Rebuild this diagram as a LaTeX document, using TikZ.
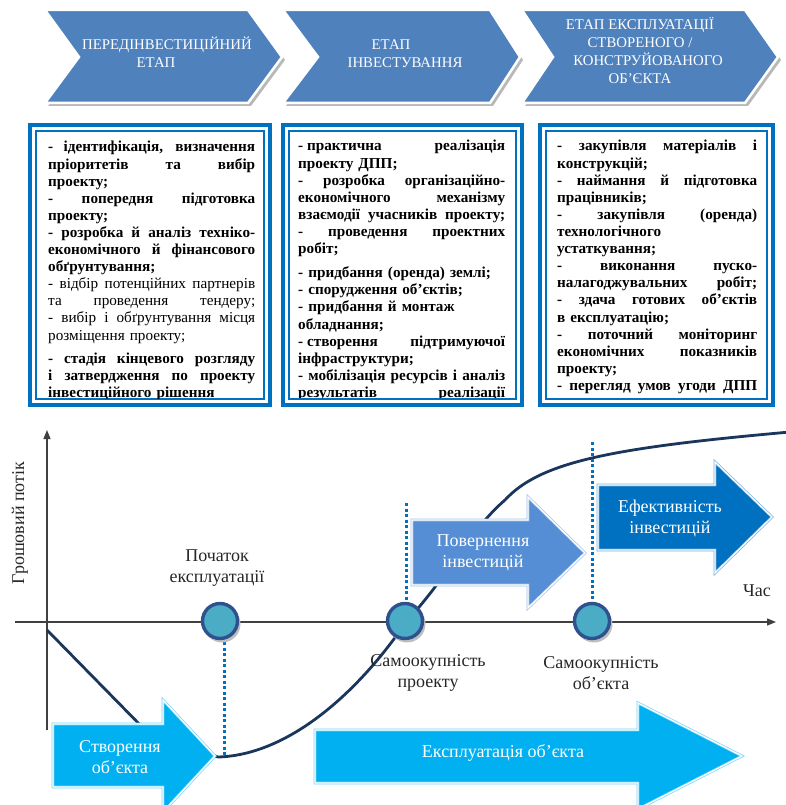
\documentclass[tikz,border=0pt]{standalone}
\usepackage{fontspec}
\setmainfont{Liberation Serif}
\usetikzlibrary{arrows.meta}
\definecolor{chev}{HTML}{4F81BD}
\definecolor{bord}{HTML}{0070C0}
\definecolor{navy}{HTML}{1B365D}
\definecolor{mcirc}{HTML}{4BACC6}
\definecolor{ringc}{HTML}{2F528F}
\definecolor{cyanA}{HTML}{00B0F0}
\definecolor{midB}{HTML}{558ED5}
\definecolor{effB}{HTML}{0070C0}
\definecolor{axisc}{HTML}{404040}
\newlength\tw
\newcommand\J[1]{\makebox[\tw][s]{\spaceskip=0.25em plus 20em\xspaceskip=0.25em plus 20em #1}}
\tikzset{
  chevshape/.style={fill=chev, draw=white, line width=2.5pt, line join=miter},
  chevshadow/.style={fill=black!28},
  chevtext/.style={text=white, align=center, font=\fontsize{14.8}{18}\selectfont},
  outerbox/.style={draw=bord, line width=4.5pt, fill=white},
  innerbox/.style={draw=bord, line width=1.2pt},
  btext/.style={anchor=base west, inner sep=0pt, align=left, text width=#1,
    font={\fontsize{15.2}{17.1}\selectfont\bfseries}},
  axisline/.style={draw=axisc, line width=1.3pt, -{Triangle[length=9pt,width=7pt]}},
  curveline/.style={draw=navy, line width=2.8pt},
  vdots/.style={draw=bord, line width=3pt, dash pattern=on 3pt off 2.5pt},
  mile/.style={circle, minimum size=35pt, inner sep=0pt, fill=mcirc, draw=ringc, line width=3.4pt},
  mileshadow/.style={circle, minimum size=37pt, inner sep=0pt, fill=black!25},
  lbl/.style={font=\fontsize{18}{21}\selectfont, text=black!85, align=center},
  arrtext/.style={text=white, align=center, font=\fontsize{18}{21}\selectfont},
  fatarrow/.style={fill=#1, draw=#1!55!white, double=white, double distance=1.3pt, line width=0.7pt, line join=miter},
}
\begin{document}
\begin{tikzpicture}[x=1pt,y=-1pt]
\useasboundingbox (0,0) rectangle (785,805);
% ---------- chevrons ----------
\fill[chevshadow] (48,13) -- (251,13) -- (285,60) -- (251,106) -- (48,106) -- (83,60) -- cycle;
\draw[chevshape] (45,10) -- (248,10) -- (282,57) -- (248,103) -- (45,103) -- (79,57) -- cycle;
\fill[chevshadow] (286,13) -- (493,13) -- (523,60) -- (493,106) -- (286,106) -- (321,60) -- cycle;
\draw[chevshape] (283,10) -- (490,10) -- (520,57) -- (490,103) -- (283,103) -- (318,57) -- cycle;
\fill[chevshadow] (525,13) -- (748,13) -- (781,60) -- (748,106) -- (525,106) -- (556,60) -- cycle;
\draw[chevshape] (522,10) -- (745,10) -- (778,57) -- (745,103) -- (522,103) -- (553,57) -- cycle;
\node[chevtext] (c1) at (167,52) {ПЕРЕДІНВЕСТИЦІЙНИЙ\\ЕТАП\hspace*{22pt}};
\node[chevtext] (c2) at (405,54) {ЕТАП\hspace*{28pt}\\ІНВЕСТУВАННЯ};
\node[chevtext] (c3) at (640,51) {ЕТАП ЕКСПЛУАТАЦІЇ\\СТВОРЕНОГО /\\\hspace*{16pt}КОНСТРУЙОВАНОГО\\ОБ’ЄКТА};
% ---------- boxes ----------
\draw[outerbox] (30,125) rectangle (270,405);
\draw[innerbox] (36,131) rectangle (264,399);
\draw[outerbox] (283,125) rectangle (522,405);
\draw[innerbox] (289,131) rectangle (516,399);
\draw[outerbox] (540,125) rectangle (773,405);
\draw[innerbox] (546,131) rectangle (767,399);
\begin{scope}
\clip (37,132) rectangle (263,398);
\node[btext=207pt] (t1) at (48,152) {\setlength\tw{207pt}%
\J{- ідентифікація, визначення}\\
\J{пріоритетів та вибір}\\
проекту;\\
\J{- попередня підготовка}\\
проекту;\\
\J{- розробка й аналіз техніко-}\\
\J{економічного й фінансового}\\
обґрунтування;\\
{\mdseries\J{- відбір потенційних партнерів}}\\
{\mdseries\J{та проведення тендеру;}}\\
{\mdseries\J{- вибір і обґрунтування місця}}\\
{\mdseries розміщення проекту;}\\[6pt]
\J{- стадія кінцевого розгляду}\\
\J{і затвердження по проекту}\\
інвестиційного рішення};
\end{scope}
\begin{scope}
\clip (290,132) rectangle (515,397);
\node[btext=207pt] (t2) at (298,151) {\setlength\tw{207pt}%
\J{\mbox{- практична} реалізація}\\
проекту ДПП;\\
\J{- розробка організаційно-}\\
\J{економічного механізму}\\
\J{взаємодії учасників проекту;}\\
\J{- проведення проектних}\\
робіт;\\[7pt]
- придбання (оренда) землі;\\
- спорудження об’єктів;\\
- придбання й монтаж\\
обладнання;\\
\J{\mbox{- створення} підтримуючої}\\
інфраструктури;\\
\J{- мобілізація ресурсів і аналіз}\\
\J{результатів реалізації}};
\end{scope}
\begin{scope}
\clip (547,132) rectangle (766,398);
\node[btext=200pt] (t3) at (557,151) {\setlength\tw{200pt}%
\J{- закупівля матеріалів і}\\
конструкцій;\\
\J{- наймання й підготовка}\\
працівників;\\
\J{- закупівля (оренда)}\\
технологічного\\
устаткування;\\
\J{- виконання пуско-}\\
\J{налагоджувальних робіт;}\\
\J{- здача готових об’єктів}\\
в експлуатацію;\\
\J{- поточний моніторинг}\\
\J{економічних показників}\\
проекту;\\
\J{- перегляд умов угоди ДПП}};
\end{scope}
% ---------- axes ----------
\coordinate (ya) at (47,730);
\coordinate (yb) at (47,430);
\coordinate (xa) at (15,622);
\coordinate (xb) at (776,622);
\draw[axisline] (ya) -- (yb);
\draw[axisline] (xa) -- (xb);
\node[lbl, rotate=90] (ylab) at (20,523) {Грошовий потік};
\node[lbl] (tlab) at (757,591) {Час};
% ---------- curve ----------
\draw[curveline] (47,630) -- (150,735) -- (218,757)
  .. controls (290,755) and (360,690) .. (406,622)
  .. controls (450,574) and (470,530) .. (505,500)
  .. controls (540,462) and (610,448) .. (790,432);
% ---------- dotted lines ----------
\coordinate (d1a) at (224,642); \coordinate (d1b) at (224,756);
\coordinate (d2a) at (406,503); \coordinate (d2b) at (406,605);
\coordinate (d3a) at (592,442); \coordinate (d3b) at (592,605);
\draw[vdots] (d1a) -- (d1b);
\draw[vdots] (d2a) -- (d2b);
\draw[vdots] (d3a) -- (d3b);
% ---------- fat arrows ----------
\draw[fatarrow=cyanA] (53,724) -- (163,724) -- (163,700) -- (215,756) -- (163,812) -- (163,787) -- (53,787) -- cycle;
\draw[fatarrow=cyanA] (315,730) -- (638,730) -- (638,703) -- (742,756) -- (638,809) -- (638,783) -- (315,783) -- cycle;
\draw[fatarrow=midB] (412,520) -- (528,520) -- (528,497) -- (585,553) -- (528,608) -- (528,585) -- (412,585) -- cycle;
\draw[fatarrow=effB] (598,485) -- (715,485) -- (715,462) -- (772,517) -- (715,573) -- (715,550) -- (598,550) -- cycle;
\node[arrtext] (a1) at (120,757) {Створення\\об’єкта};
\node[arrtext] (a2) at (503,753) {Експлуатація об’єкта};
\node[arrtext] (a3) at (483,553) {Повернення\\інвестицій};
\node[arrtext] (a4) at (670,518) {Ефективність\\інвестицій};
% ---------- milestones ----------
\node[mileshadow] (s1) at (222,624) {};
\node[mile] (m1) at (220,621) {};
\node[mileshadow] (s2) at (407,624) {};
\node[mile] (m2) at (405,621) {};
\node[mileshadow] (s3) at (594,624) {};
\node[mile] (m3) at (592,621) {};
\node[lbl] (l1) at (217,568) {Початок\\експлуатації};
\node[lbl] (l2) at (428,673) {Самоокупність\\проекту};
\node[lbl] (l3) at (601,673) {Самоокупність\\об’єкта};
\end{tikzpicture}
\end{document}
